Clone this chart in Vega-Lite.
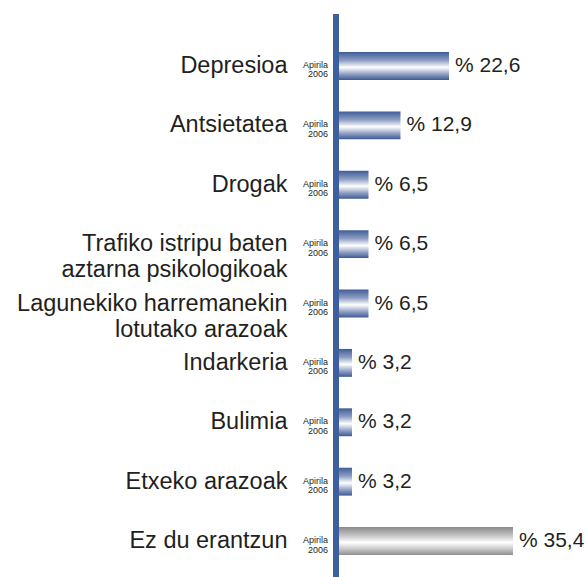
{
  "$schema": "https://vega.github.io/schema/vega-lite/v6.json",
  "width": 250,
  "height": 579,
  "autosize": {"type": "none"},
  "padding": {"left": 336, "top": 14, "right": 2, "bottom": 0},
  "background": "white",
  "config": {"view": {"stroke": null}, "font": "Liberation Sans"},
  "data": {
    "values": [
      {"category": "Depresioa", "value": 22.6, "period": "Apirila|2006"},
      {"category": "Antsietatea", "value": 12.9, "period": "Apirila|2006"},
      {"category": "Drogak", "value": 6.5, "period": "Apirila|2006"},
      {"category": "Trafiko istripu baten|aztarna psikologikoak", "value": 6.5, "period": "Apirila|2006"},
      {"category": "Lagunekiko harremanekin|lotutako arazoak", "value": 6.5, "period": "Apirila|2006"},
      {"category": "Indarkeria", "value": 3.2, "period": "Apirila|2006"},
      {"category": "Bulimia", "value": 3.2, "period": "Apirila|2006"},
      {"category": "Etxeko arazoak", "value": 3.2, "period": "Apirila|2006"},
      {"category": "Ez du erantzun", "value": 35.4, "period": "Apirila|2006"}
    ]
  },
  "transform": [
    {"calculate": "'% ' + replace(format(datum.value, '.1f'), '.', ',')", "as": "label"}
  ],
  "layer": [
    {
      "transform": [{"filter": "datum.category != 'Ez du erantzun'"}],
      "mark": {
        "type": "bar",
        "color": {
          "gradient": "linear",
          "x1": 0, "y1": 0, "x2": 0, "y2": 1,
          "stops": [
            {"offset": 0, "color": "#3f5d98"},
            {"offset": 0.3, "color": "#8d9dc2"},
            {"offset": 0.55, "color": "#ffffff"},
            {"offset": 0.8, "color": "#8d9dc2"},
            {"offset": 1, "color": "#3d5a95"}
          ]
        }
      },
      "encoding": {
        "x": {"field": "value", "type": "quantitative", "scale": {"domain": [0, 50]}, "axis": null},
        "y": {
          "field": "category",
          "type": "nominal",
          "sort": null,
          "scale": {
            "domain": ["Depresioa", "Antsietatea", "Drogak", "Trafiko istripu baten|aztarna psikologikoak", "Lagunekiko harremanekin|lotutako arazoak", "Indarkeria", "Bulimia", "Etxeko arazoak", "Ez du erantzun"],
            "paddingInner": 0.53,
            "paddingOuter": 0.64
          },
          "axis": {
            "title": null,
            "domain": false,
            "ticks": false,
            "tickSize": 0,
            "grid": false,
            "labelPadding": 49,
            "labelFontSize": 23.5,
            "labelFont": "Liberation Sans",
            "labelColor": "#231f20",
            "labelLimit": 0,
            "labelLineHeight": 26,
            "labelBaseline": "middle",
            "labelExpr": "split(datum.label, '|')"
          }
        }
      }
    },
    {
      "transform": [{"filter": "datum.category == 'Ez du erantzun'"}],
      "mark": {
        "type": "bar",
        "color": {
          "gradient": "linear",
          "x1": 0, "y1": 0, "x2": 0, "y2": 1,
          "stops": [
            {"offset": 0, "color": "#8a8a8a"},
            {"offset": 0.3, "color": "#c4c4c4"},
            {"offset": 0.55, "color": "#ffffff"},
            {"offset": 0.8, "color": "#c4c4c4"},
            {"offset": 1, "color": "#8f8f8f"}
          ]
        }
      },
      "encoding": {
        "x": {"field": "value", "type": "quantitative", "scale": {"domain": [0, 50]}, "axis": null},
        "y": {"field": "category", "type": "nominal", "sort": null}
      }
    },
    {
      "mark": {"type": "text", "align": "left", "baseline": "middle", "dx": 6, "fontSize": 21, "font": "Liberation Sans", "color": "#231f20"},
      "encoding": {
        "x": {"field": "value", "type": "quantitative"},
        "y": {"field": "category", "type": "nominal", "sort": null},
        "text": {"field": "label"}
      }
    },
    {
      "mark": {"type": "text", "align": "right", "baseline": "middle", "dx": -8, "dy": -1, "fontSize": 9, "lineHeight": 9.5, "lineBreak": "|", "font": "Liberation Sans", "color": "#231f20"},
      "encoding": {
        "x": {"datum": 0},
        "y": {"field": "category", "type": "nominal", "sort": null},
        "text": {"field": "period"}
      }
    },
    {
      "mark": {"type": "rule", "color": "#3d5f9e", "strokeWidth": 6},
      "encoding": {"x": {"datum": 0}}
    }
  ]
}
